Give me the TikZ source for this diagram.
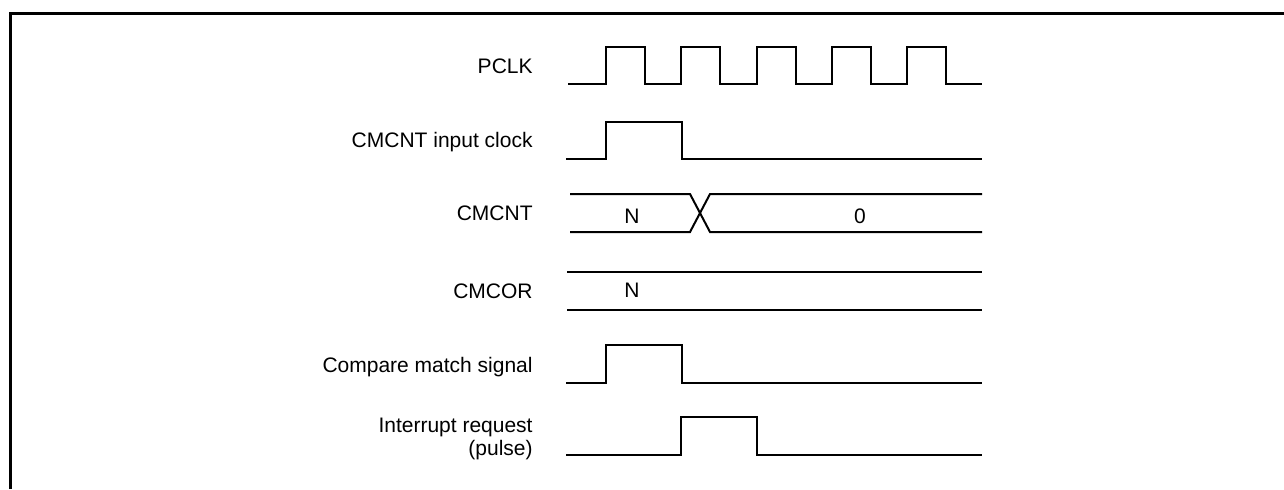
\documentclass[tikz,border=0pt]{standalone}
\usepackage{fontspec}
\setmainfont{Liberation Sans}
\usetikzlibrary{positioning}
\tikzset{
  siglabel/.style={font=\fontsize{10.5}{11.5}\selectfont,anchor=base east,inner sep=0pt,align=right},
  sigval/.style={font=\fontsize{10.5}{11.5}\selectfont,anchor=base,inner sep=0pt},
  sigwave/.style={draw=black,line width=1pt,line join=miter},
  sigframe/.style={draw=black,line width=1.5pt}
}

\begin{document}
\begin{tikzpicture}[x=0.5pt,y=-0.5pt]
\useasboundingbox (0,0) rectangle (1284,489);
\draw[sigframe] (10,489) -- (10,13) -- (1284,13);
% signal names
\node[siglabel] (pclk) at (533,73) {PCLK};
\node[siglabel] (inclk) at (533,147) {CMCNT input clock};
\node[siglabel] (cnt) at (533,220) {CMCNT};
\node[siglabel] (cor) at (533,298) {CMCOR};
\node[siglabel] (cmp) at (533,372) {Compare match signal};
\node[siglabel] (irq) at (533,455) {Interrupt request\\(pulse)};
% waveforms
\draw[sigwave] (568,84) foreach \t in {0,...,4}{
  -- ({606+75.25*\t},84) -- ({606+75.25*\t},47) -- ({645+75.25*\t},47) -- ({645+75.25*\t},84)} -- (982,84);
\draw[sigwave] (566,159) -- (606,159) -- (606,122) -- (682,122) -- (682,159) -- (982,159);
\draw[sigwave] (570,194) -- (690,194) -- (710,232) -- (982,232);
\draw[sigwave] (570,232) -- (690,232) -- (710,194) -- (982,194);
\node[sigval] (cntn) at (632,223) {N};
\node[sigval] (cntz) at (860,223) {0};
\draw[sigwave] (567,272) -- (982,272);
\draw[sigwave] (567,310) -- (982,310);
\node[sigval] (corn) at (632,297) {N};
\draw[sigwave] (566,383) -- (606,383) -- (606,345) -- (682,345) -- (682,383) -- (982,383);
\draw[sigwave] (566,455) -- (681,455) -- (681,417) -- (757,417) -- (757,455) -- (982,455);
\end{tikzpicture}
\end{document}
